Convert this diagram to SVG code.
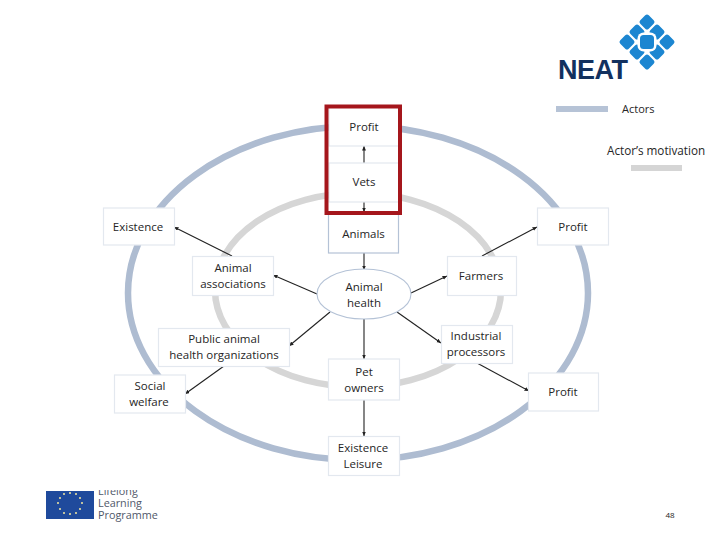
<svg xmlns="http://www.w3.org/2000/svg" width="720" height="540" viewBox="0 0 720 540">
<style>
text{font-family:"Open Sans","Liberation Sans",sans-serif;font-size:11.500px;fill:#262626;text-anchor:middle}
.box{fill:#fff;stroke:#e3e8ef;stroke-width:1.2}
.strong{stroke:#b4c2d6}
.ring{fill:none}
.c{stroke:#222;stroke-width:1.1;fill:none;marker-end:url(#a)}
.d{fill:#1c86d1}
.f{font-size:10.800px;text-anchor:start;fill:#50586a}
</style>
<defs>
<marker id="a" markerWidth="5" markerHeight="5" refX="4.500" refY="2" orient="auto" markerUnits="userSpaceOnUse"><path d="M0 0L4.500 2L0 4z" fill="#222"/></marker>
<g id="dm"><rect x="-6" y="-6" width="12" height="12" rx="2.500" transform="rotate(45)" class="d"/></g>
</defs>
<rect width="720" height="540" fill="#fff"/>
<g id="rings">
<ellipse class="ring" cx="358" cy="293" rx="230" ry="167" stroke="#aebcd1" stroke-width="6.500"/>
<ellipse class="ring" cx="358" cy="290" rx="143" ry="97" stroke="#d6d6d6" stroke-width="6.500"/>
</g>
<g id="connectors">
<path class="c" d="M364 163V146"/>
<path class="c" d="M364 202V212"/>
<path class="c" d="M364 253V270"/>
<path class="c" d="M317 294L273 275"/>
<path class="c" d="M232 256L174 227"/>
<path class="c" d="M330 312L289 346"/>
<path class="c" d="M224 366L185 394"/>
<path class="c" d="M364 319V359"/>
<path class="c" d="M364 400V436"/>
<path class="c" d="M411 293L447 276"/>
<path class="c" d="M482 256L537 227"/>
<path class="c" d="M397 312L441 343"/>
<path class="c" d="M477 363L529 391"/>
</g>
<g id="node-profit-top"><rect class="box" x="329" y="107" width="70" height="39"/><text x="364" y="131">Profit</text></g>
<g id="node-vets"><rect class="box" x="329" y="163" width="70" height="39"/><text x="364" y="186">Vets</text></g>
<g id="node-animals"><rect class="box strong" x="328.500" y="212" width="70" height="41"/><text x="363.500" y="238">Animals</text></g>
<g id="node-existence"><rect class="box" x="103.500" y="208" width="71" height="37"/><text x="138" y="231">Existence</text></g>
<g id="node-associations"><rect class="box" x="192.500" y="256.500" width="81" height="39"/><text x="233" y="272">Animal</text><text x="233" y="288">associations</text></g>
<g id="node-public"><rect class="box" x="158.500" y="328.500" width="131" height="38"/><text x="224" y="343">Public animal</text><text x="224" y="359">health organizations</text></g>
<g id="node-social"><rect class="box" x="114.500" y="375" width="71" height="38"/><text x="150" y="390">Social</text><text x="149" y="406">welfare</text></g>
<g id="node-health"><ellipse cx="364" cy="294" rx="47" ry="25" fill="#fff" stroke="#b4c2d6" stroke-width="1.100"/><text x="364" y="291">Animal</text><text x="364" y="307">health</text></g>
<g id="node-pet"><rect class="box" x="328.500" y="359" width="71" height="41"/><text x="364" y="376">Pet</text><text x="364" y="392">owners</text></g>
<g id="node-leisure"><rect class="box" x="328.500" y="436.500" width="71" height="39"/><text x="363" y="452">Existence</text><text x="363" y="468">Leisure</text></g>
<g id="node-farmers"><rect class="box" x="447.500" y="256.500" width="69" height="39"/><text x="481" y="280">Farmers</text></g>
<g id="node-processors"><rect class="box" x="441.500" y="325.500" width="71" height="38"/><text x="476" y="340">Industrial</text><text x="476" y="356">processors</text></g>
<g id="node-profit-right"><rect class="box" x="537.500" y="208" width="71" height="37"/><text x="573" y="231">Profit</text></g>
<g id="node-profit-lower"><rect class="box" x="528.500" y="373" width="70" height="38"/><text x="563" y="396">Profit</text></g>
<rect id="highlight" x="326.500" y="106.500" width="73.500" height="106.500" fill="none" stroke="#a5161c" stroke-width="4"/>
<g id="logo">
<use href="#dm" x="647" y="22"/><use href="#dm" x="657" y="32"/><use href="#dm" x="667" y="42"/><use href="#dm" x="657" y="52"/><use href="#dm" x="647" y="62"/><use href="#dm" x="637" y="52"/><use href="#dm" x="627" y="42"/><use href="#dm" x="637" y="32"/>
<rect x="637.500" y="32.500" width="19" height="19" rx="6" fill="#fff"/>
<rect x="640" y="35" width="14" height="14" rx="3.500" class="d"/>
<text x="558" y="79" style="font-family:'Liberation Sans',sans-serif;font-size:27px;font-weight:700;fill:#12315f;text-anchor:start;letter-spacing:-0.500px">NEAT</text>
</g>
<g id="legend">
<rect x="556" y="106" width="52" height="6" fill="#b6c3d6"/>
<text x="622" y="113" style="text-anchor:start;font-size:11px">Actors</text>
<text x="607" y="155" style="text-anchor:start;font-size:11.700px">Actor’s motivation</text>
<rect x="631" y="165" width="51" height="6" fill="#d5d5d5"/>
</g>
<g id="footer">
<text x="98" y="495" class="f">Lifelong</text>
<rect x="40" y="470" width="130" height="20" fill="#fff"/>
<text x="98" y="507" class="f">Learning</text>
<text x="98" y="519" class="f">Programme</text>
<rect x="46" y="491" width="48" height="28" fill="#1f4a9c"/>
<g fill="#f4e9a0"><circle cx="70" cy="493" r="1"/><circle cx="76" cy="494" r="1"/><circle cx="80" cy="498" r="1"/><circle cx="82" cy="503" r="1"/><circle cx="80" cy="509" r="1"/><circle cx="76" cy="513" r="1"/><circle cx="70" cy="514" r="1"/><circle cx="64" cy="513" r="1"/><circle cx="60" cy="509" r="1"/><circle cx="58" cy="503" r="1"/><circle cx="60" cy="498" r="1"/><circle cx="64" cy="494" r="1"/></g>
<text x="670" y="518" style="font-size:8px;fill:#222">48</text>
</g>
</svg>
